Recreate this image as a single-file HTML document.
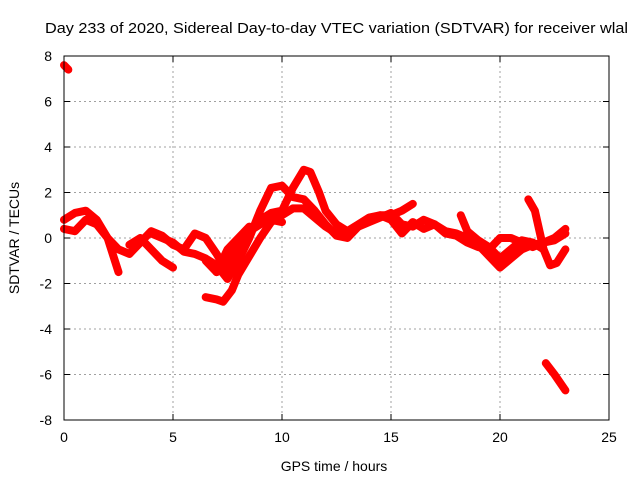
<!DOCTYPE html>
<html><head><meta charset="utf-8"><style>
body{margin:0;background:#fff;}
svg{display:block;font-family:"Liberation Sans",Arial,sans-serif;}
</style></head><body>
<svg id="chart" width="640" height="480">
<rect width="640" height="480" fill="#fff"/>
<text x="45" y="33" font-size="15" textLength="583" lengthAdjust="spacingAndGlyphs">Day 233 of 2020, Sidereal Day-to-day VTEC variation (SDTVAR) for receiver wlal</text>
<g id="grid"></g>
<g id="series"></g>
<rect x="64" y="56" width="545" height="364" fill="none" stroke="#000" stroke-width="1"/>
<g id="ticks"></g>
<text x="334" y="471" font-size="14" text-anchor="middle">GPS time / hours</text>
<text transform="translate(19,238) rotate(-90)" font-size="14" text-anchor="middle">SDTVAR / TECUs</text>
</svg>
<script>
const xTicks=[0,5,10,15,20,25];
const yTicks=[-8,-6,-4,-2,0,2,4,6,8];
const track1=[[0,0.8],[0.5,1.1],[1,1.2],[1.5,0.8],[2,0.0],[2.5,-1.5]];
const track2=[[0,0.4],[0.5,0.3],[1,0.8],[1.5,0.6],[2,0],[2.5,-0.5],[3,-0.7],[3.5,-0.2],[4,0.3],[4.5,0.1],[5,-0.3],[5.5,-0.5],[6,0.2],[6.5,0.0],[7,-0.7],[7.5,-1.5],[8,-0.5],[8.5,0.3],[9,0.6],[9.5,0.8],[10,0.7]];
const track3=[[3,-0.3],[3.5,0.0],[4,-0.5],[4.5,-1.0],[5,-1.3]];
const track4=[[4,0.2],[5,-0.2],[5.5,-0.6],[6,-0.7],[6.5,-0.9],[7,-1.2],[7.5,-1.8],[8,-1.0],[8.5,0],[9,1.2],[9.5,2.2],[10,2.3],[10.5,1.8],[11,1.7],[11.5,1.2],[12,0.6],[12.5,0.1],[13,0.0],[13.5,0.5],[14,0.7],[14.5,0.9],[15,1.1],[15.5,0.6],[16,0.5],[16.5,0.8],[17,0.6],[17.5,0.3],[18,0.2],[18.5,0.0],[19,-0.3],[19.5,-0.8],[20,-1.3],[20.5,-0.9],[21,-0.5],[21.5,-0.3],[22,-0.2],[22.5,-0.1],[23,0.2]];
const track5=[[6.5,-2.6],[7,-2.7],[7.3,-2.8],[7.7,-2.3],[8,-1.6],[8.5,-0.8],[9,0.0],[9.5,0.7],[10,1.0],[10.5,1.3],[11,1.3],[11.5,0.9],[12,0.5],[12.5,0.2],[13,0.3],[13.5,0.6],[14,0.9],[14.5,1.0],[15,1.0],[15.5,1.2],[16,1.5]];
const track6=[[7,-1.5],[7.5,-1.0],[8,-0.3],[8.5,0.3],[9,0.8],[9.5,1.1],[10,1.2],[10.5,2.2],[11,3.0],[11.3,2.9],[11.7,2.0],[12,1.2],[12.5,0.6],[13,0.3],[13.5,0.5],[14,0.8],[14.5,1.0],[15,0.8],[15.5,0.2],[16,0.7],[16.5,0.4],[17,0.6],[17.5,0.2],[18,0.1],[18.5,-0.2],[19,-0.4],[19.5,-0.5],[20,0.0],[20.5,0.0],[21,-0.2],[21.5,-0.4],[22,-0.2],[22.5,0.0],[23,0.4]];
const track7=[[18.2,1.0],[18.5,0.3],[19,-0.1],[19.5,-0.4],[20,-0.9],[20.5,-0.5],[21,-0.1],[21.5,-0.2],[22,-0.5]];
const track8=[[21.3,1.7],[21.6,1.2],[22,-0.5],[22.3,-1.2],[22.6,-1.1],[23,-0.5]];
const track9=[[0,7.6],[0.2,7.4]];
const track10=[[22.1,-5.5],[22.5,-6.0],[23,-6.7]];
const track11=[[6.5,-1.0],[7,-1.5],[7.5,-0.5],[8,0.0],[8.5,0.5]];
const tracks=[track1,track2,track3,track4,track5,track6,track7,track8,track9,track10,track11];

const X0=64,X1=609,Y0=420,Y1=56;
const xs=v=>X0+(v-0)/25*(X1-X0);
const ys=v=>Y0-(v+8)/16*(Y0-Y1);
const NS="http://www.w3.org/2000/svg";
const grid=document.getElementById('grid'),ticks=document.getElementById('ticks'),series=document.getElementById('series');
function mk(tag,attrs,parent){const e=document.createElementNS(NS,tag);for(const k in attrs)e.setAttribute(k,attrs[k]);parent.appendChild(e);return e;}
xTicks.forEach(t=>{
  const x=xs(t);
  if(t>0&&t<25){const g=mk('line',{x1:x,x2:x,y1:Y1,y2:Y0,stroke:'#a0a0a0','stroke-dasharray':'2,3'},grid);
  
  }
  const a=mk('line',{x1:x,x2:x,y1:Y0,y2:Y0-6,stroke:'#000'},ticks);
  
  
  const b=mk('line',{x1:x,x2:x,y1:Y1,y2:Y1+6,stroke:'#000'},ticks);
  
  
  const l=mk('text',{x:x,y:442,'font-size':14,'text-anchor':'middle'},ticks);l.textContent=t;
  
  
});
yTicks.forEach(t=>{
  const y=ys(t);
  if(t>-8&&t<8){const g=mk('line',{x1:X0,x2:X1,y1:y,y2:y,stroke:'#a0a0a0','stroke-dasharray':'2,3'},grid);
  
  }
  const a=mk('line',{x1:X0,x2:X0+6,y1:y,y2:y,stroke:'#000'},ticks);
  
  
  const b=mk('line',{x1:X1,x2:X1-6,y1:y,y2:y,stroke:'#000'},ticks);
  
  
  const l=mk('text',{x:52,y:y+5,'font-size':14,'text-anchor':'end'},ticks);l.textContent=t;
  
  
});
tracks.forEach(tr=>{
  const p=mk('polyline',{points:tr.map(d=>xs(d[0])+','+ys(d[1])).join(' '),fill:'none',stroke:'#ff0000','stroke-width':8,'stroke-linejoin':'round','stroke-linecap':'round'},series);
  
  
});
</script>
</body></html>
